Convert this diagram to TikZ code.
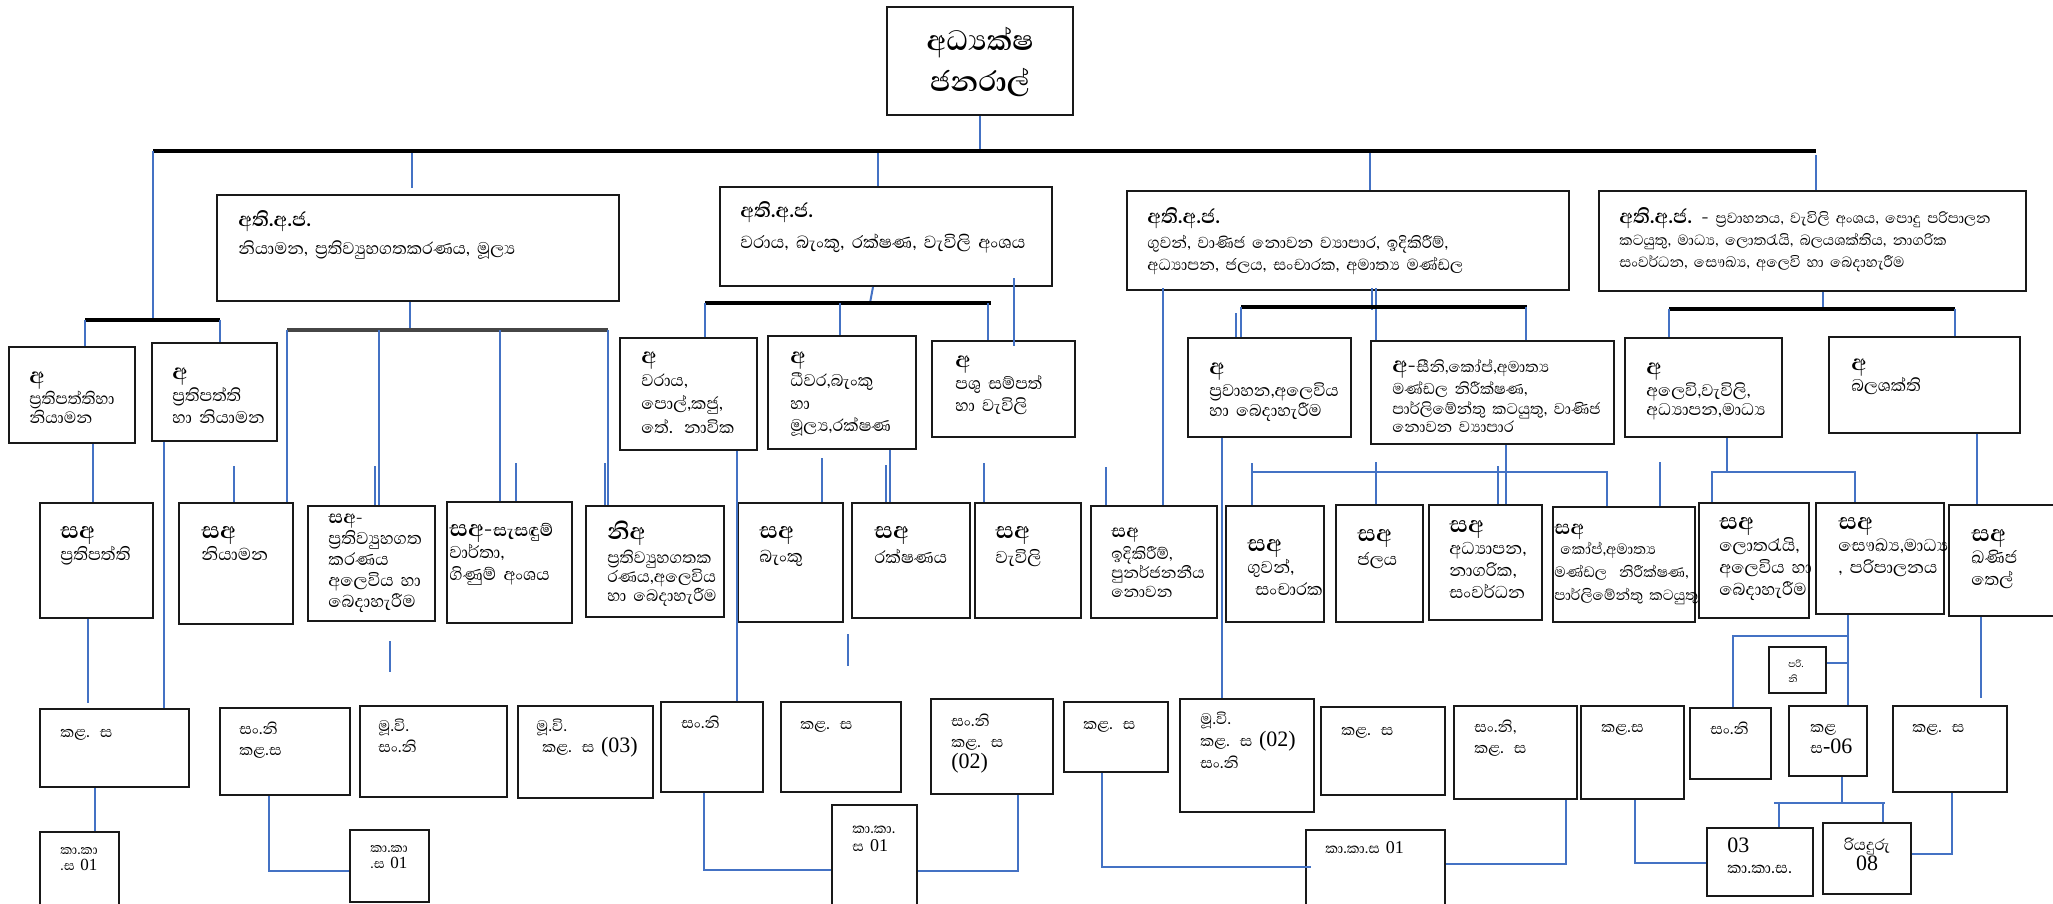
\documentclass[tikz,border=0pt]{standalone}
\usepackage{fontspec}
\setmainfont[Script=Sinhala]{Abhaya Libre}
\newfontfamily\numfont{Liberation Serif}
\usetikzlibrary{fit}
\definecolor{conblue}{RGB}{68,114,196}
\definecolor{boxline}{RGB}{25,25,25}
\definecolor{bargray}{RGB}{70,70,70}
\newcommand{\heada}{\fontsize{14}{14}\selectfont\bfseries}
\newcommand{\headb}{\fontsize{12.5}{13}\selectfont\bfseries}
\newcommand{\headc}{\fontsize{11.5}{11.5}\selectfont\bfseries}
\newcommand{\headd}{\fontsize{12.5}{12.5}\selectfont\bfseries}
\newcommand{\heads}{\fontsize{14.5}{14.5}\selectfont\bfseries}
\tikzset{
  bx/.style={draw=boxline, line width=1pt, fill=white, inner sep=0pt},
  txt/.style={anchor=base west, inner sep=0pt, text width=250pt, align=left,
    execute at begin node={\lineskiplimit=-30pt}},
  txtb/.style={txt, font=\fontsize{10.5}{11}\selectfont},
  txta/.style={txt, font=\fontsize{10.8}{11}\selectfont},
  txts/.style={txt, font=\fontsize{11}{11}\selectfont},
  txtk/.style={txt, font=\fontsize{9.8}{10.5}\selectfont},
  txtkk/.style={txt, font=\fontsize{8.5}{8}\selectfont},
  cn/.style={draw=conblue, line width=1pt},
  bar/.style={draw=black, line width=1.6pt},
  mainbar/.style={draw=black, line width=2pt},
}

\begin{document}
\begin{tikzpicture}[x=0.5pt,y=-0.5pt]
\useasboundingbox (0,0) rectangle (2053,904);

% top box
\node[bx, fit={(887,7) (1073,115)}] (tb) {};
\node[inner sep=0pt, anchor=base, text width=90pt, align=center, font=\fontsize{18}{20.5}\selectfont\bfseries] (tbt) at (980,51) {අධ්‍යක්ෂ\\ජනරාල්};

% second level
\node[bx, fit={(217,195) (619,301)}] (b1) {};
\node[bx, fit={(720,187) (1052,286)}] (b2) {};
\node[bx, fit={(1127,191) (1569,290)}] (b3) {};
\node[bx, fit={(1599,191) (2026,291)}] (b4) {};
\node[txtb, font=\fontsize{10.8}{11}\selectfont] (b1t) at (238,227) {{\headb අති.අ.ජ.}\\[3pt]නියාමන, ප්‍රතිව්‍යුහගතකරණය, මූල්‍ය};
\node[txtb, font=\fontsize{11.2}{11}\selectfont] (b2t) at (740,218) {{\headb අති.අ.ජ.}\\[4.5pt]වරාය, බැංකු, රක්ෂණ, වැවිලි අංශය};
\node[txtb, font=\fontsize{10.2}{11}\selectfont] (b3t) at (1147,223) {{\headb අති.අ.ජ.}\\[2pt]ගුවන්, වාණිජ නොවන ව්‍යාපාර, ඉදිකිරීම්,\\අධ්‍යාපන, ජලය, සංචාරක, අමාත්‍ය මණ්ඩල};
\node[txtb, font=\fontsize{9.4}{11}\selectfont] (b4t) at (1619,223) {{\headb අති.අ.ජ. -} ප්‍රවාහනය, වැවිලි අංශය, පොදු පරිපාලන\\කටයුතු, මාධ්‍ය, ලොතරැයි, බලයශක්තිය, නාගරික\\සංවර්ධන, සෞඛ්‍ය, අලෙවි හා බෙදාහැරීම};

% third level
\node[bx, fit={(9,347) (135,443)}] (a1) {};
\node[bx, fit={(152,343) (277,441)}] (a2) {};
\node[bx, fit={(620,338) (757,450)}] (a3) {};
\node[bx, fit={(768,336) (916,449)}] (a4) {};
\node[bx, fit={(932,341) (1075,437)}] (a5) {};
\node[bx, fit={(1188,338) (1351,437)}] (a6) {};
\node[bx, fit={(1371,341) (1614,444)}] (a7) {};
\node[bx, fit={(1625,338) (1782,437)}] (a8) {};
\node[bx, fit={(1829,337) (2020,433)}] (a9) {};
\node[txta, font=\fontsize{10.4}{10}\selectfont] (a1t) at (29,383) {{\heada අ}\\[0.5pt]ප්‍රතිපත්තිහා\\නියාමන};
\node[txta] (a2t) at (172,379) {{\heada අ}\\ප්‍රතිපත්ති\\හා නියාමන};
\node[txta, font=\fontsize{10.8}{12}\selectfont] (a3t) at (641,363) {{\heada අ}\\[-0.5pt]වරාය,\\පොල්,කජු,\\තේ. නාවික};
\node[txta, font=\fontsize{10.8}{11.5}\selectfont] (a4t) at (790,363) {{\heada අ}\\ධීවර,බැංකු\\හා\\මූල්‍ය,රක්ෂණ};
\node[txta] (a5t) at (955,367) {{\heada අ}\\පශු සම්පත්\\හා වැවිලි};
\node[txta] (a6t) at (1209,374) {{\heada අ}\\ප්‍රවාහන,අලෙවිය\\[-1pt]හා බෙදාහැරීම};
\node[txta, font=\fontsize{10}{10}\selectfont] (a7t) at (1392,372) {{\heada අ-}සීනි,කෝප්,අමාත්‍ය\\[1pt]මණ්ඩල නිරීක්ෂණ,\\පාර්ලිමේන්තු කටයුතු, වාණිජ\\[-1pt]නොවන ව්‍යාපාර};
\node[txta] (a8t) at (1646,374) {{\heada අ}\\අලෙවි,වැවිලි,\\[-1.5pt]අධ්‍යාපන,මාධ්‍ය};
\node[txta] (a9t) at (1851,370) {{\heada අ}\\[-0.5pt]බලශක්ති};

% fourth level
\node[bx, fit={(40,503) (153,618)}] (s1) {};
\node[bx, fit={(179,503) (293,624)}] (s2) {};
\node[bx, fit={(308,506) (435,621)}] (s3) {};
\node[bx, fit={(447,502) (572,623)}] (s4) {};
\node[bx, fit={(586,506) (724,617)}] (s5) {};
\node[bx, fit={(738,503) (843,622)}] (s6) {};
\node[bx, fit={(852,503) (970,618)}] (s7) {};
\node[bx, fit={(975,503) (1081,618)}] (s8) {};
\node[bx, fit={(1091,506) (1217,618)}] (s9) {};
\node[bx, fit={(1226,506) (1324,622)}] (s10) {};
\node[bx, fit={(1336,505) (1423,622)}] (s11) {};
\node[bx, fit={(1429,505) (1542,620)}] (s12) {};
\node[bx, fit={(1553,507) (1695,622)}] (s13) {};
\node[bx, fit={(1699,503) (1809,618)}] (s14) {};
\node[bx, fit={(1816,503) (1944,614)}] (s15) {};
\node[bx, fit={(1949,505) (2060,616)}] (s16) {};
\node[txts] (s1t) at (60,538) {{\heads සඅ}\\ප්‍රතිපත්ති};
\node[txts] (s2t) at (201,538) {{\heads සඅ}\\නියාමන};
\node[txts, font=\fontsize{11}{10.5}\selectfont] (s3t) at (328,523) {{\headc සඅ-}\\ප්‍රතිව්‍යුහගත\\කරණය\\අලෙවිය හා\\බෙදාහැරීම};
\node[txts] (s4t) at (449,536) {{\heads සඅ-}{\bfseries සැසඳුම්}\\වාර්තා,\\ගිණුම් අංශය};
\node[txts, font=\fontsize{10.5}{9.5}\selectfont] (s5t) at (607,539) {{\heads නිඅ}\\[2.5pt]ප්‍රතිව්‍යුහගතක\\රණය,අලෙවිය\\හා බෙදාහැරීම};
\node[txts] (s6t) at (759,538) {{\heads සඅ}\\[1pt]බැංකු};
\node[txts] (s7t) at (874,538) {{\heads සඅ}\\[1.5pt]රක්ෂණය};
\node[txts] (s8t) at (995,538) {{\heads සඅ}\\[1.5pt]වැවිලි};
\node[txts, font=\fontsize{10.2}{9.5}\selectfont] (s9t) at (1111,537) {{\headc සඅ}\\[1.5pt]ඉදිකිරීම්,\\පුනර්ජනනීය\\නොවන};
\node[txts] (s10t) at (1247,551) {{\heads සඅ}\\ගුවන්,\\\hspace{4pt}සංචාරක};
\node[txts] (s11t) at (1357,541) {{\heads සඅ}\\[1pt]ජලය};
\node[txts] (s12t) at (1449,532) {{\heads සඅ}\\අධ්‍යාපන,\\නාගරික,\\සංවර්ධන};
\node[txts, font=\fontsize{9.5}{11.5}\selectfont] (s13t) at (1554,534) {{\headd සඅ}\\[-1.5pt]\hspace{3pt}කෝප්,අමාත්‍ය\\මණ්ඩල\hspace{6pt}නිරීක්ෂණ,\\පාර්ලිමේන්තු කටයුතු};
\node[txts] (s14t) at (1719,529) {{\heads සඅ}\\ලොතරැයි,\\අලෙවිය හා\\බෙදාහැරීම};
\node[txts] (s15t) at (1838,529) {{\heads සඅ}\\සෞඛ්‍ය,මාධ්‍ය\\, පරිපාලනය};
\node[txts] (s16t) at (1971,541) {{\heads සඅ}\\ඛණිජ\\තෙල්};

% fifth level
\node[bx, fit={(40,709) (189,787)}] (k1) {};
\node[bx, fit={(220,708) (350,795)}] (k2) {};
\node[bx, fit={(360,706) (507,797)}] (k3) {};
\node[bx, fit={(518,706) (653,798)}] (k4) {};
\node[bx, fit={(661,702) (763,792)}] (k5) {};
\node[bx, fit={(781,702) (901,792)}] (k6) {};
\node[bx, fit={(931,699) (1053,794)}] (k7) {};
\node[bx, fit={(1064,702) (1168,772)}] (k8) {};
\node[bx, fit={(1180,699) (1314,812)}] (k9) {};
\node[bx, fit={(1321,707) (1445,795)}] (k10) {};
\node[bx, fit={(1454,706) (1577,799)}] (k11) {};
\node[bx, fit={(1581,706) (1684,799)}] (k12) {};
\node[bx, fit={(1690,708) (1771,779)}] (k13) {};
\node[bx, fit={(1789,706) (1867,776)}] (k14) {};
\node[bx, fit={(1893,706) (2007,792)}] (k15) {};
\node[bx, fit={(1769,647) (1826,693)}] (pn) {};
\node[txtk] (k1t) at (60,737) {කළ. ස};
\node[txtk] (k2t) at (239,734) {සං.නි\\කළ.ස};
\node[txtk] (k3t) at (378,731) {මූ.වි.\\සං.නි};
\node[txtk] (k4t) at (536,731) {මූ.වි.\\\hspace{3pt}කළ. ස {\numfont\fontsize{11}{10}\selectfont (03)}};
\node[txtk] (k5t) at (681,728) {සං.නි};
\node[txtk] (k6t) at (800,729) {කළ. ස};
\node[txtk] (k7t) at (951,726) {සං.නි\\කළ. ස\\{\numfont\fontsize{11}{10}\selectfont (02)}};
\node[txtk, font=\fontsize{9.8}{11}\selectfont] (k8t) at (1083,729) {කළ. ස};
\node[txtk, font=\fontsize{9.8}{11}\selectfont] (k9t) at (1200,724) {මූ.වි.\\කළ. ස {\numfont\fontsize{11}{10}\selectfont (02)}\\සං.නි};
\node[txtk] (k10t) at (1341,735) {කළ. ස};
\node[txtk] (k11t) at (1474,732) {සං.නි,\\කළ. ස};
\node[txtk] (k12t) at (1601,732) {කළ.ස};
\node[txtk] (k13t) at (1710,734) {සං.නි};
\node[txtk] (k14t) at (1810,732) {කළ\\ස{\numfont\fontsize{11}{10}\selectfont -06}};
\node[txtk] (k15t) at (1912,732) {කළ. ස};
\node[txt, font=\fontsize{6}{7.5}\selectfont] (pnt) at (1788,667) {පරි.\\නි};

% sixth level
\node[bx, fit={(40,832) (119,915)}] (kk1) {};
\node[bx, fit={(350,830) (429,902)}] (kk2) {};
\node[bx, fit={(832,805) (917,915)}] (kk3) {};
\node[bx, fit={(1306,830) (1445,915)}] (kk4) {};
\node[bx, fit={(1707,828) (1813,896)}] (kk5) {};
\node[bx, fit={(1823,823) (1911,894)}] (kk6) {};
\node[txtkk] (kk1t) at (60,854) {කා.කා\\.ස {\numfont 01}};
\node[txtkk] (kk2t) at (370,852) {කා.කා\\.ස {\numfont 01}};
\node[txtkk, font=\fontsize{9}{9}\selectfont] (kk3t) at (852,833) {කා.කා.\\ස {\numfont 01}};
\node[txtkk, font=\fontsize{9}{9}\selectfont] (kk4t) at (1325,853) {කා.කා.ස {\numfont 01}};
\node[txtkk, font=\fontsize{10}{10.5}\selectfont] (kk5t) at (1727,852) {{\numfont\fontsize{11}{10}\selectfont 03}\\කා.කා.ස.};
\node[inner sep=0pt, anchor=base, text width=44pt, align=center, font=\fontsize{10}{10}\selectfont, execute at begin node={\lineskiplimit=-30pt}] (kk6t) at (1867,850) {රියදුරු\\{\numfont\fontsize{11}{10}\selectfont 08}};

% connectors from the top
\draw[cn] (tb.south) -- (tb.south |- 0,151);
\draw[mainbar] (153,151) -- (1816,151);
\draw[cn] (153,151) -- (153,319);
\draw[cn] (412,153) -- (412,188);
\draw[cn] (878,153) -- (b2.north -| 878,0);
\draw[cn] (1370,153) -- (b3.north -| 1370,0);
\draw[cn] (1816,155) -- (b4.north -| 1816,0);

% left pair
\draw[bar] (85,320) -- (220,320);
\draw[cn] (85,320) -- (a1.north -| 85,0);
\draw[cn] (220,320) -- (a2.north -| 220,0);

% under b1
\draw[cn] (b1.south -| 410,0) -- (410,330);
\draw[bar, draw=bargray] (287,330) -- (608,330);
\draw[cn] (287,330) -- (s2.north -| 287,0);
\draw[cn] (379,330) -- (s3.north -| 379,0);
\draw[cn] (500,330) -- (s4.north -| 500,0);
\draw[cn] (608,330) -- (s5.north -| 608,0);
\draw[cn] (234,466) -- (s2.north -| 234,0);
\draw[cn] (375,466) -- (s3.north -| 375,0);
\draw[cn] (516,463) -- (s4.north -| 516,0);
\draw[cn] (605,463) -- (s5.north -| 605,0);

% under b2
\draw[cn] (b2.south -| 873,0) -- (870,303);
\draw[bar] (705,303) -- (991,303);
\draw[cn] (705,303) -- (a3.north -| 705,0);
\draw[cn] (840,303) -- (a4.north -| 840,0);
\draw[cn] (988,303) -- (a5.north -| 988,0);
\draw[cn] (1014,278) -- (1014,346);

% under b3
\draw[cn] (1163,288) -- (s9.north -| 1163,0);
\draw[cn] (1372,288) -- (1372,310);
\draw[cn] (1376,288) -- (a7.north -| 1376,0);
\draw[bar] (1241,307) -- (1527,307);
\draw[cn] (1241,307) -- (a6.north -| 1241,0);
\draw[cn] (1236,313) -- (a6.north -| 1236,0);
\draw[cn] (1526,307) -- (a7.north -| 1526,0);

% under b4
\draw[cn] (b4.south -| 1823,0) -- (1823,310);
\draw[bar] (1669,309) -- (1955,309);
\draw[cn] (1669,309) -- (a8.north -| 1669,0);
\draw[cn] (1955,309) -- (a9.north -| 1955,0);

% third to fourth level
\draw[cn] (a1.south -| 93,0) -- (s1.north -| 93,0);
\draw[cn] (a2.south -| 164,0) -- (k1.north -| 164,0);
\draw[cn] (a3.south -| 737,0) -- (k5.north -| 737,0);
\draw[cn] (a4.south -| 890,0) -- (s7.north -| 890,0);
\draw[cn] (886,465) -- (s7.north -| 886,0);
\draw[cn] (822,458) -- (s6.north -| 822,0);
\draw[cn] (984,463) -- (s8.north -| 984,0);
\draw[cn] (1106,467) -- (s9.north -| 1106,0);
\draw[cn] (a6.south -| 1222,0) -- (k9.north -| 1222,0);
\draw[cn] (1252,463) -- (s10.north -| 1252,0);
\draw[cn] (1252,472) -- (1607,472) -- (s13.north -| 1607,0);
\draw[cn] (a7.south -| 1506,0) -- (s12.north -| 1506,0);
\draw[cn] (1498,466) -- (s12.north -| 1498,0);
\draw[cn] (1376,462) -- (s11.north -| 1376,0);
\draw[cn] (1660,462) -- (s13.north -| 1660,0);
\draw[cn] (a8.south -| 1727,0) -- (1727,472);
\draw[cn] (s14.north -| 1712,0) -- (1712,472) -- (1855,472) -- (s15.north -| 1855,0);
\draw[cn] (a9.south -| 1977,0) -- (s16.north -| 1977,0);

% fourth to fifth level
\draw[cn] (s1.south -| 88,0) -- (88,703);
\draw[cn] (390,641) -- (390,672);
\draw[cn] (848,634) -- (848,666);
\draw[cn] (s15.south -| 1848,0) -- (k14.north -| 1848,0);
\draw[cn] (k13.north -| 1733,0) -- (1733,636) -- (1848,636);
\draw[cn] (pn.east |- 0,663) -- (1848,663);
\draw[cn] (s16.south -| 1981,0) -- (1981,698);

% fifth to sixth level
\draw[cn] (k1.south -| 95,0) -- (kk1.north -| 95,0);
\draw[cn] (k2.south -| 269,0) |- (kk2.west |- 0,871);
\draw[cn] (k5.south -| 704,0) |- (kk3.west |- 0,870);
\draw[cn] (k7.south -| 1018,0) |- (kk3.east |- 0,871);
\draw[cn] (k8.south -| 1102,0) |- (1311,867);
\draw[cn] (k11.south -| 1566,0) |- (kk4.east |- 0,864);
\draw[cn] (k12.south -| 1635,0) |- (kk5.west |- 0,863);
\draw[cn] (k14.south -| 1842,0) -- (1842,803);
\draw[cn] (1774,803) -- (1885,803);
\draw[cn] (1779,803) -- (kk5.north -| 1779,0);
\draw[cn] (1883,803) -- (kk6.north -| 1883,0);
\draw[cn] (k15.south -| 1952,0) |- (kk6.east |- 0,854);

\end{tikzpicture}
\end{document}
